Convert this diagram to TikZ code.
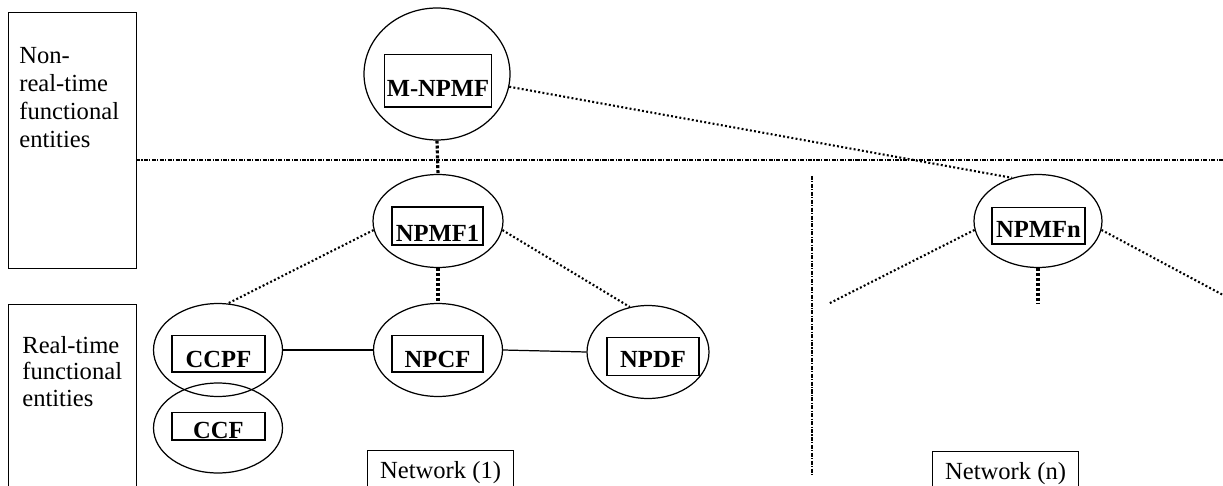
\documentclass[tikz,border=0pt]{standalone}
\usepackage{fontspec}
\setmainfont{Liberation Serif}
\usepackage{tikz}
\usetikzlibrary{positioning,shapes.geometric}

\begin{document}
\begin{tikzpicture}[%
  x=0.02cm,
  y=-0.02cm,
  font=\fontsize{14}{16}\selectfont,
  entity/.style={
    ellipse,
    draw,
    line width=0.7pt,
    inner sep=0pt,},
  fbox/.style={
    draw,
    line width=0.7pt,
    inner sep=0pt,
    anchor=base,
    text height=#1,
    text depth=3pt,
    font=\fontsize{14}{16}\selectfont\bfseries,},
  fbox/.default=18pt,
  sidebox/.style={
    draw,
    line width=0.7pt,
    anchor=north west,
    minimum width=2.56cm,},
  netbox/.style={
    draw,
    line width=0.7pt,
    inner sep=0pt,
    anchor=north west,
    minimum width=2.92cm,
    text height=16pt,
    text depth=20pt,},
  dotline/.style={
    line width=1.2pt,
    dash pattern=on 1.1pt off 1.3pt,},
  thickdot/.style={
    line width=1.8pt,
    dash pattern=on 1.7pt off 1.1pt,},
  divider/.style={
    line width=0.7pt,
    dash pattern=on 2.3pt off 0.8pt on 0.6pt off 0.8pt,}
  ]
  \useasboundingbox (0,0) rectangle (1223,486);
  \clip (0,0) rectangle (1223,486);
  %% Side boxes
  \node[sidebox, minimum height=5.12cm] (nrtbox) at (8,12) {};
  \node[anchor=north west, align=left, inner sep=0pt] (nrt) at (19,47)
    {Non-\\real-time\\functional\\entities};
  \node[sidebox, minimum height=4cm] (rtbox) at (8,304) {};
  \node[anchor=north west, align=left, inner sep=0pt, font=\fontsize{14}{15}\selectfont] (rt) at (22,336)
    {Real-time\\functional\\entities};
  %% Entities
  \node[entity, minimum width=2.92cm, minimum height=2.64cm] (mnpmf) at (437,74) {};
  \node[fbox=24pt, minimum width=2.14cm, text depth=5.7pt] (mnpmfb) at (438,97) {M-NPMF};
  \node[entity, minimum width=2.6cm, minimum height=1.86cm] (npmf1) at (438,221) {};
  \node[fbox=19.3pt, minimum width=1.82cm, text depth=2.3pt] (npmf1b) at (437.5,241) {NPMF1};
  \node[entity, minimum width=2.58cm, minimum height=1.86cm] (npcf) at (438,350) {};
  \node[fbox, minimum width=1.82cm, text depth=2.8pt] (npcfb) at (437.5,367) {NPCF};
  \node[entity, minimum width=2.44cm, minimum height=1.86cm] (npdf) at (648,352) {};
  \node[fbox=17pt, minimum width=1.84cm, text depth=5pt] (npdfb) at (653,367) {NPDF};
  \node[entity, minimum width=2.58cm, minimum height=1.86cm] (ccpf) at (218,350) {};
  \node[fbox, minimum width=1.86cm, text depth=2.8pt] (ccpfb) at (218.5,367) {CCPF};
  \node[entity, minimum width=2.58cm, minimum height=1.8cm] (ccf) at (218,428) {};
  \node[fbox=14.7pt, minimum width=1.86cm, text depth=1.2pt] (ccfb) at (218.5,438) {CCF};
  \node[entity, minimum width=2.56cm, minimum height=1.86cm] (npmfn) at (1038,221) {};
  \node[fbox=17pt, minimum width=1.86cm, text depth=4pt] (npmfnb) at (1038.5,237) {NPMFn};
  %% Networks
  \node[netbox] (net1) at (367,450) {Network (1)};
  \node[netbox] (netn) at (932,451) {Network (n)};
  %% Loose ends
  \coordinate (hl0) at (136,160);
  \coordinate (hl1) at (1223,160);
  \coordinate (vl0) at (812,176);
  \coordinate (vl1) at (812,475);
  \coordinate (nl) at (828,304);
  \coordinate (nr) at (1223,295);
  \coordinate (nd) at (1038,304);
  %% Edges
  \draw[divider] (hl0) -- (hl1);
  \draw[divider] (vl0) -- (vl1);
  \draw[dotline] (mnpmf.-10) -- (npmfn.121);
  \draw[thickdot] (mnpmf.south) -- (npmf1.north);
  \draw[dotline] (npmf1.188) -- (ccpf.78);
  \draw[dotline] (npmf1.-8) -- (npdf.112);
  \draw[thickdot] (npmf1.south) -- (npcf.north);
  \draw[line width=0.7pt] (ccpf.east) -- (npcf.west);
  \draw[line width=0.7pt] (npcf.east) -- (npdf.west);
  \draw[dotline] (npmfn.188) -- (nl);
  \draw[dotline] (npmfn.-8) -- (nr);
  \draw[thickdot] (npmfn.south) -- (nd);
\end{tikzpicture}
\end{document}
